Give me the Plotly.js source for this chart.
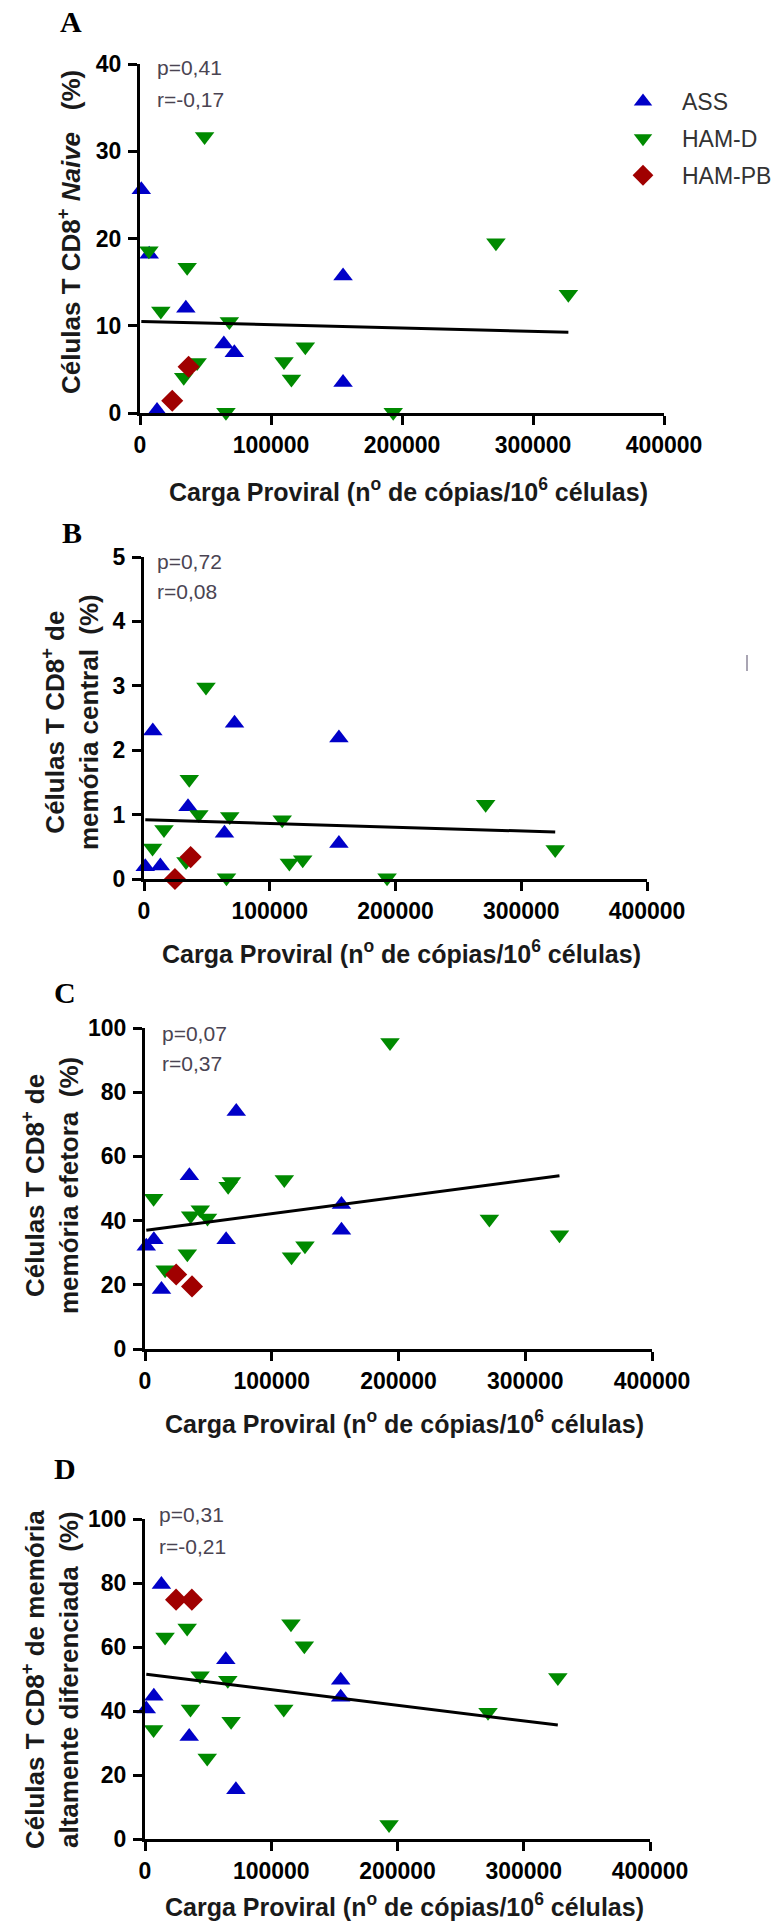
<!DOCTYPE html>
<html><head><meta charset="utf-8">
<script src="https://cdn.plot.ly/plotly-3.0.1.min.js"></script>
<style>html,body{margin:0;padding:0;background:#fff}#chart{width:782px;height:1923px}</style>
</head><body><div id="chart"></div>
<script>
// ---- data (proviral load, copies/10^6 cells) ----
const assX   = [1000, 7000, 13000, 35000, 64000, 72000, 155000, 155000];
const hamdX  = [6800, 15900, 33400, 36000, 43600, 49300, 65600, 68200, 109900, 115600, 126200, 193300, 271700, 327000];
const hampbX = [24600, 37100];

// Panel A: naive (%)
const assA   = [25.6, 18.2, 0.3, 12.0, 7.9, 6.9, 15.7, 3.5];
const hamdA  = [18.6, 11.7, 4.1, 16.7, 5.8, 31.7, 0.1, 10.5, 5.9, 3.9, 7.6, 0.1, 19.5, 13.6];
const hampbA = [1.4, 5.3];
// Panel B: central memory (%)
const assB   = [0.19, 2.30, 0.20, 1.12, 0.71, 2.42, 2.19, 0.55];
const hamdB  = [0.48, 0.77, 0.27, 1.55, 1.00, 2.98, 0.02, 0.97, 0.92, 0.25, 0.30, 0.02, 1.16, 0.46];
const hampbB = [0.00, 0.34];
// Panel C: effector memory (%)
const assC   = [32.0, 34.0, 18.5, 54.0, 34.0, 74.0, 45.0, 37.0];
const hamdC  = [47.0, 24.7, 29.7, 41.5, 43.4, 40.8, 50.7, 52.2, 52.8, 28.7, 32.2, 95.5, 40.5, 35.6];
const hampbC = [23.2, 19.5];
// Panel D: highly differentiated memory (%)
const assD   = [40.6, 44.6, 79.5, 32.0, 56.0, 15.4, 49.6, 44.3];
const hamdD  = [34.2, 63.1, 65.9, 40.6, 51.0, 25.3, 49.6, 36.8, 40.6, 67.3, 60.4, 4.5, 39.6, 50.5];
const hampbD = [74.8, 74.8];

// Regression lines
const fitX  = [1000, 327000];
const fitA  = [10.5, 9.25];
const fitB  = [0.92, 0.73];
const fitC  = [37.0, 54.0];
const fitD  = [51.5, 35.6];

const xTicks  = [0, 100000, 200000, 300000, 400000];
const yTicksA = [0, 10, 20, 30, 40];
const yTicksB = [0, 1, 2, 3, 4, 5];
const yTicksC = [0, 20, 40, 60, 80, 100];
const yTicksD = [0, 20, 40, 60, 80, 100];

const stats = [["p=0,41","r=-0,17"],["p=0,72","r=0,08"],["p=0,07","r=0,37"],["p=0,31","r=-0,21"]];
const letters = ["A","B","C","D"];
const groupNames = ["ASS","HAM-D","HAM-PB"];
const xTitle = "Carga Proviral (n<sup>o</sup> de cópias/10<sup>6</sup> células)";
const NB = "\u00A0";
const yTitles = [
  "Células T CD8<sup>+</sup> <i>Naive</i>"+NB+NB+NB+"(%)",
  "Células T CD8<sup>+</sup> de<br>memória central"+NB+NB+"(%)",
  "Células T CD8<sup>+</sup> de<br>memória efetora"+NB+NB+"(%)",
  "Células T CD8<sup>+</sup> de memória<br>altamente diferenciada"+NB+NB+"(%)"
];

// ---- layout geometry ----
const W = 782, H = 1923;
const px = v => v / W, py = v => 1 - v / H;
const panels = [
  {xd:[140,664], yd:[64,413],  yr:[0,40],  yt:yTicksA, ass:assA, hd:hamdA, pb:hampbA, fit:fitA,
   letter:[71,22], st:[155,68,100], xt:[408,490], yt2:[70,232]},
  {xd:[144,647], yd:[557,879], yr:[0,5],   yt:yTicksB, ass:assB, hd:hamdB, pb:hampbB, fit:fitB,
   letter:[72,532], st:[155,562,591], xt:[401,952], yt2:[70,722]},
  {xd:[145,652], yd:[1028,1349], yr:[0,100], yt:yTicksC, ass:assC, hd:hamdC, pb:hampbC, fit:fitC,
   letter:[65,993], st:[160,1033,1063], xt:[404,1422], yt2:[50,1186]},
  {xd:[145,650], yd:[1519,1839], yr:[0,100], yt:yTicksD, ass:assD, hd:hamdD, pb:hampbD, fit:fitD,
   letter:[65,1468], st:[157,1514,1546], xt:[404,1905], yt2:[50,1680]}
];

const colors = ["#0000c8", "#008a00", "#a00000"];
const symbols = ["triangle-up", "triangle-down", "diamond"];
const FAM = "Arial, 'Liberation Sans', sans-serif";
const tickFont = {family:FAM, size:23, color:"#000", weight:"bold"};

const traces = [];
const layout = {
  width: W, height: H, margin:{l:0,r:0,t:0,b:0},
  paper_bgcolor:"#fff", plot_bgcolor:"#fff",
  showlegend:true,
  legend:{x:px(604), xanchor:"left", y:py(80), yanchor:"top", itemwidth:68,
          font:{family:FAM, size:23, color:"#333"},
          bgcolor:"rgba(0,0,0,0)", tracegroupgap:4, itemsizing:"trace"},
  annotations: [], shapes: []
};

panels.forEach((p, i) => {
  const n = i === 0 ? "" : String(i + 1);
  const xa = "x" + n, ya = "y" + n;
  const groups = [[assX, p.ass], [hamdX, p.hd], [hampbX, p.pb]];
  groups.forEach((g, k) => {
    const t = {type:"scatter", mode:"markers", x:g[0], y:g[1], xaxis:xa, yaxis:ya,
      name:groupNames[k], showlegend:i === 0, cliponaxis:false,
      marker:{symbol:symbols[k], color:colors[k], size:17, line:{width:0}}};
    if (i === 0) t.legendgroup = "g" + k;
    traces.push(t);
  });
  traces.push({type:"scatter", mode:"lines", x:fitX, y:p.fit, xaxis:xa, yaxis:ya,
    showlegend:false, line:{color:"#000", width:3}, cliponaxis:false});

  layout["xaxis" + n] = {domain:[px(p.xd[0]), px(p.xd[1])], anchor:ya, range:[0,400000],
    tickvals:xTicks, tickformat:"d", ticks:"outside", ticklen:9, tickwidth:3, tickcolor:"#000",
    showline:true, linewidth:3, linecolor:"#000", showgrid:false, zeroline:false,
    tickfont:tickFont, ticklabelstandoff:0, fixedrange:true};
  layout["yaxis" + n] = {domain:[py(p.yd[1]), py(p.yd[0])], anchor:xa, range:p.yr,
    tickvals:p.yt, ticks:"outside", ticklen:9, tickwidth:3, tickcolor:"#000",
    showline:true, linewidth:3, linecolor:"#000", showgrid:false, zeroline:false,
    tickfont:tickFont, ticklabelstandoff:2, fixedrange:true};

  const A = layout.annotations;
  A.push({xref:"paper", yref:"paper", x:px(p.letter[0]), y:py(p.letter[1]), xanchor:"center", yanchor:"middle",
    text:letters[i], showarrow:false,
    font:{family:"'Liberation Serif', 'Times New Roman', serif", size:30, color:"#000", weight:"bold"}});
  A.push({xref:"paper", yref:"paper", x:px(p.st[0]), y:py(p.st[1]), xanchor:"left", yanchor:"middle",
    text:stats[i][0], showarrow:false, font:{family:FAM, size:21, color:"#4a4452"}});
  A.push({xref:"paper", yref:"paper", x:px(p.st[0]), y:py(p.st[2]), xanchor:"left", yanchor:"middle",
    text:stats[i][1], showarrow:false, font:{family:FAM, size:21, color:"#4a4452"}});
  A.push({xref:"paper", yref:"paper", x:px(p.xt[0]), y:py(p.xt[1]), xanchor:"center", yanchor:"middle",
    text:xTitle, showarrow:false, font:{family:FAM, size:25, color:"#1a1a1a", weight:"bold"}});
  A.push({xref:"paper", yref:"paper", x:px(p.yt2[0]), y:py(p.yt2[1]), xanchor:"center", yanchor:"middle",
    text:yTitles[i], textangle:-90, showarrow:false,
    font:{family:FAM, size:26, color:"#1a1a1a", weight:"bold"}});
});

// small stray mark present in the original figure (panel B, right margin)
layout.shapes.push({type:"line", xref:"paper", yref:"paper", x0:px(747), x1:px(747), y0:py(655), y1:py(671),
  line:{color:"#8c879a", width:1.5}});

Plotly.newPlot("chart", traces, layout, {staticPlot:true, displayModeBar:false});
</script>
</body></html>
